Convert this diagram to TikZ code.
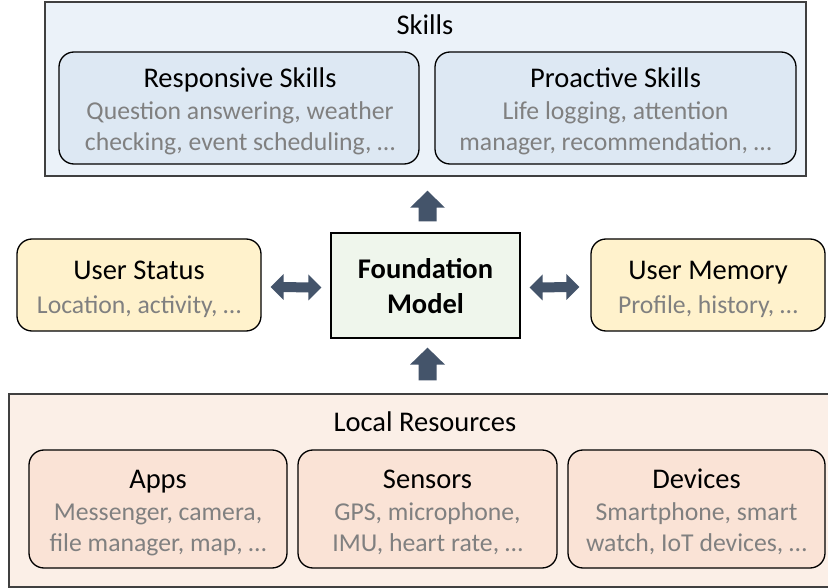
\documentclass[tikz,border=0pt]{standalone}
\usepackage{fontspec}
\setmainfont{Carlito}
\usetikzlibrary{calc}
\definecolor{skillout}{HTML}{EBF2F9}
\definecolor{skillin}{HTML}{DDE8F3}
\definecolor{userfill}{HTML}{FFF2CC}
\definecolor{fmfill}{HTML}{EFF6EC}
\definecolor{locout}{HTML}{FBEFE7}
\definecolor{locin}{HTML}{FAE3D6}
\definecolor{graytxt}{HTML}{808080}
\definecolor{arrowc}{HTML}{44546A}
\definecolor{frame}{HTML}{404040}
\begin{document}
\begin{tikzpicture}[x=1pt,y=-1pt,
  outerbox/.style={draw=frame,line width=1.5pt,inner sep=0pt},
  innerbox/.style={draw=black,line width=1.3pt,rounded corners=15pt,inner sep=0pt},
  title/.style={anchor=base,inner sep=0pt,font=\fontsize{28.5}{34}\selectfont},
  desc/.style={anchor=base,inner sep=0pt,text=graytxt,font=\fontsize{25.7}{31}\selectfont},
  vblock/.style={fill=arrowc,to path={
    ([xshift=-9pt]\tikztostart) -- ([xshift=-9pt,yshift=-17pt]\tikztotarget)
    -- ([xshift=-17.5pt,yshift=-17pt]\tikztotarget) -- (\tikztotarget)
    -- ([xshift=17.5pt,yshift=-17pt]\tikztotarget) -- ([xshift=9pt,yshift=-17pt]\tikztotarget)
    -- ([xshift=9pt]\tikztostart) -- cycle}},
  hblock/.style={fill=arrowc,to path={
    (\tikztostart) -- ([xshift=13pt,yshift=13pt]\tikztostart) -- ([xshift=13pt,yshift=5pt]\tikztostart)
    -- ([xshift=-13pt,yshift=5pt]\tikztotarget) -- ([xshift=-13pt,yshift=13pt]\tikztotarget)
    -- (\tikztotarget) -- ([xshift=-13pt,yshift=-13pt]\tikztotarget) -- ([xshift=-13pt,yshift=-5pt]\tikztotarget)
    -- ([xshift=13pt,yshift=-5pt]\tikztostart) -- ([xshift=13pt,yshift=-13pt]\tikztostart) -- cycle}}
]
\useasboundingbox[fill=white] (0,0) rectangle (828,588);

% Skills
\node[outerbox,fill=skillout,minimum width=761pt,minimum height=174pt] (skills) at (425.5,89) {};
\node[title] (skillsT) at (425,34.5) {Skills};
\node[innerbox,fill=skillin,minimum width=360pt,minimum height=112pt] (resp) at (239,108) {};
\node[title] (respT) at (240,88) {Responsive Skills};
\node[desc] (respD1) at (240,120) {Question answering, weather};
\node[desc] (respD2) at (240,150.5) {checking, event scheduling, \dots};
\node[innerbox,fill=skillin,minimum width=361pt,minimum height=112pt] (proa) at (615.5,108) {};
\node[title] (proaT) at (615.5,88) {Proactive Skills};
\node[desc] (proaD1) at (615.5,120) {Life logging, attention};
\node[desc] (proaD2) at (615.5,150.5) {manager, recommendation, \dots};

% Middle row
\node[innerbox,fill=userfill,minimum width=244pt,minimum height=92pt] (status) at (139,285) {};
\node[title] (statusT) at (139,280) {User Status};
\node[desc] (statusD) at (139,313) {Location, activity, \dots};
\node[draw=black,line width=1.3pt,fill=fmfill,minimum width=189pt,minimum height=105pt,inner sep=0pt] (fm) at (425.5,285.5) {};
\node[title,font=\fontsize{28.5}{34}\selectfont\bfseries] (fmT1) at (425.5,279) {Foundation};
\node[title,font=\fontsize{28.5}{34}\selectfont\bfseries] (fmT2) at (425.5,313) {Model};
\node[innerbox,fill=userfill,minimum width=234pt,minimum height=92pt] (memory) at (708,285) {};
\node[title] (memoryT) at (708,280) {User Memory};
\node[desc] (memoryD) at (708,313) {Profile, history, \dots};

% Local resources
\node[outerbox,fill=locout,minimum width=821pt,minimum height=193pt] (local) at (419.5,490.5) {};
\node[title] (localT) at (425,431.5) {Local Resources};
\node[innerbox,fill=locin,minimum width=258pt,minimum height=118pt] (apps) at (158,509) {};
\node[title] (appsT) at (158,488) {Apps};
\node[desc] (appsD1) at (158,520) {Messenger, camera,};
\node[desc] (appsD2) at (158,551.5) {file manager, map, \dots};
\node[innerbox,fill=locin,minimum width=259pt,minimum height=118pt] (sensors) at (427.5,509) {};
\node[title] (sensorsT) at (427.5,488) {Sensors};
\node[desc] (sensorsD1) at (427.5,520) {GPS, microphone,};
\node[desc] (sensorsD2) at (427.5,551.5) {IMU, heart rate, \dots};
\node[innerbox,fill=locin,minimum width=257pt,minimum height=118pt] (devices) at (696.5,509) {};
\node[title] (devicesT) at (696.5,488) {Devices};
\node[desc] (devicesD1) at (696.5,520) {Smartphone, smart};
\node[desc] (devicesD2) at (696.5,551.5) {watch, IoT devices, \dots};

% Arrows
\path[vblock] ($(fm.north)+(2,-11)$) to ($(skills.south)+(2,14)$);
\path[vblock] ($(fm.south |- local.north)+(2,-13)$) to ($(fm.south)+(2,9)$);
\path[hblock] ($(status.east)+(9,2)$) to ($(fm.west)+(-9,2)$);
\path[hblock] ($(fm.east)+(9,2)$) to ($(memory.west)+(-11,2)$);
\end{tikzpicture}
\end{document}
